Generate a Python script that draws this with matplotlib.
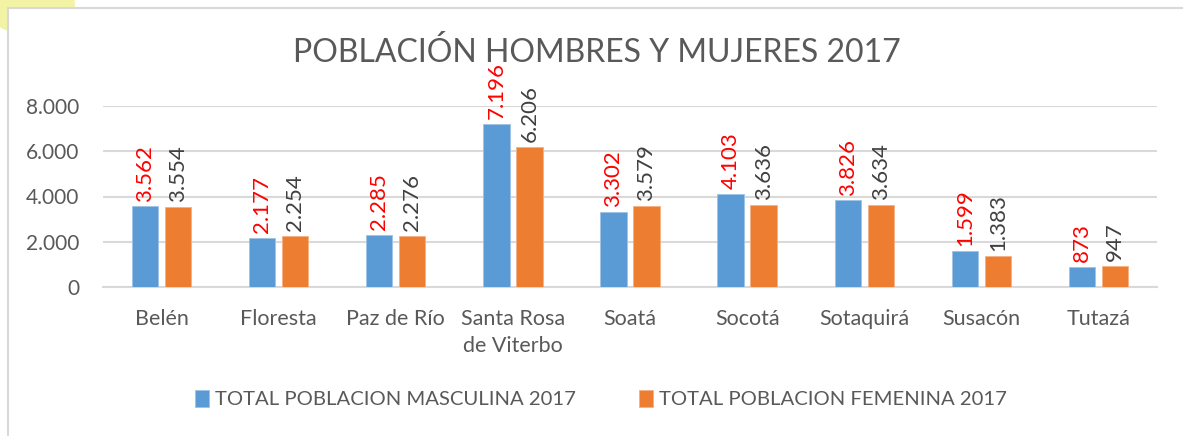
import matplotlib
matplotlib.use("Agg")
import matplotlib.pyplot as plt
from matplotlib.patches import Rectangle, Ellipse
import numpy as np

categories = ["Belén", "Floresta", "Paz de Río", "Santa Rosa\nde Viterbo", "Soatá",
              "Socotá", "Sotaquirá", "Susacón", "Tutazá"]
male = [3562, 2177, 2285, 7196, 3302, 4103, 3826, 1599, 873]
female = [3554, 2254, 2276, 6206, 3579, 3636, 3634, 1383, 947]
male_labels = ["3.562", "2.177", "2.285", "7.196", "3.302", "4.103", "3.826", "1.599", "873"]
female_labels = ["3.554", "2.254", "2.276", "6.206", "3.579", "3.636", "3.634", "1.383", "947"]
yticks = [0, 2000, 4000, 6000, 8000]
ytick_labels = ["0", "2.000", "4.000", "6.000", "8.000"]
title = "POBLACIÓN HOMBRES Y MUJERES 2017"
legend_labels = ["TOTAL POBLACION MASCULINA 2017", "TOTAL POBLACION FEMENINA 2017"]

W, H = 1183, 436
plt.rcParams['font.family'] = ['Lato', 'DejaVu Sans']
fig = plt.figure(figsize=(W / 100, H / 100), dpi=100)

# background decorations
fig.patches.append(Ellipse((30 / W, 1 - 5 / H), 90 / W, 60 / H, transform=fig.transFigure,
                           facecolor="#F3F3A6", edgecolor="none", zorder=0))
fig.patches.append(Rectangle((8 / W, -0.1), 1.2, 1 - 8 / H + 0.1, transform=fig.transFigure,
                             facecolor="white", edgecolor="#D9D9D9", linewidth=1.5, zorder=1))

ax = fig.add_axes([103 / W, 1 - 287 / H, (1157 - 103) / W, (287 - 106) / H])
ax.set_zorder(3)
ax.set_facecolor("none")
x = np.arange(len(categories))
bw = 0.225
off = 0.141
b1 = ax.bar(x - off, male, bw, color="#5B9BD5", edgecolor="#9DC3E6", linewidth=0.6, zorder=3,
            label=legend_labels[0])
b2 = ax.bar(x + off, female, bw, color="#ED7D31", edgecolor="#F4B183", linewidth=0.6, zorder=3,
            label=legend_labels[1])

for xi, v, lab in zip(x, male, male_labels):
    ax.annotate(lab, (xi - off, v), xytext=(0, 3.5), textcoords="offset points",
                rotation=90, ha="center", va="bottom", fontsize=16, color="#FF0000",
                annotation_clip=False)
for xi, v, lab in zip(x, female, female_labels):
    ax.annotate(lab, (xi + off, v), xytext=(0, 3.5), textcoords="offset points",
                rotation=90, ha="center", va="bottom", fontsize=16, color="#404040",
                annotation_clip=False)

ax.set_xlim(-0.5, len(categories) - 0.5)
ax.set_ylim(0, 8000)
ax.set_yticks(yticks)
ax.set_yticklabels(ytick_labels, fontsize=15, color="#595959")
ax.set_xticks(x)
ax.set_xticklabels(categories, fontsize=15.5, color="#595959", linespacing=1.4)
ax.tick_params(axis="y", length=0, pad=17)
ax.tick_params(axis="x", length=0, pad=16)
ax.grid(axis="y", color="#D9D9D9", linewidth=1.5, zorder=0)
for s in ["top", "right", "left"]:
    ax.spines[s].set_visible(False)
ax.spines["bottom"].set_color("#D9D9D9")
ax.spines["bottom"].set_linewidth(1.5)

fig.text(597 / W, 1 - 52 / H, title, ha="center", va="center", fontsize=23, color="#595959",
         zorder=4)

leg = fig.legend(handles=[b1, b2], labels=legend_labels, loc="center",
                 bbox_to_anchor=(601 / W, 1 - 399 / H),
                 ncol=2, frameon=False, fontsize=14.6, labelcolor="#595959", handlelength=0.7,
                 handleheight=0.9, handletextpad=0.3, columnspacing=3.1)
leg.set_zorder(4)

fig.savefig("out.png", dpi=100)
